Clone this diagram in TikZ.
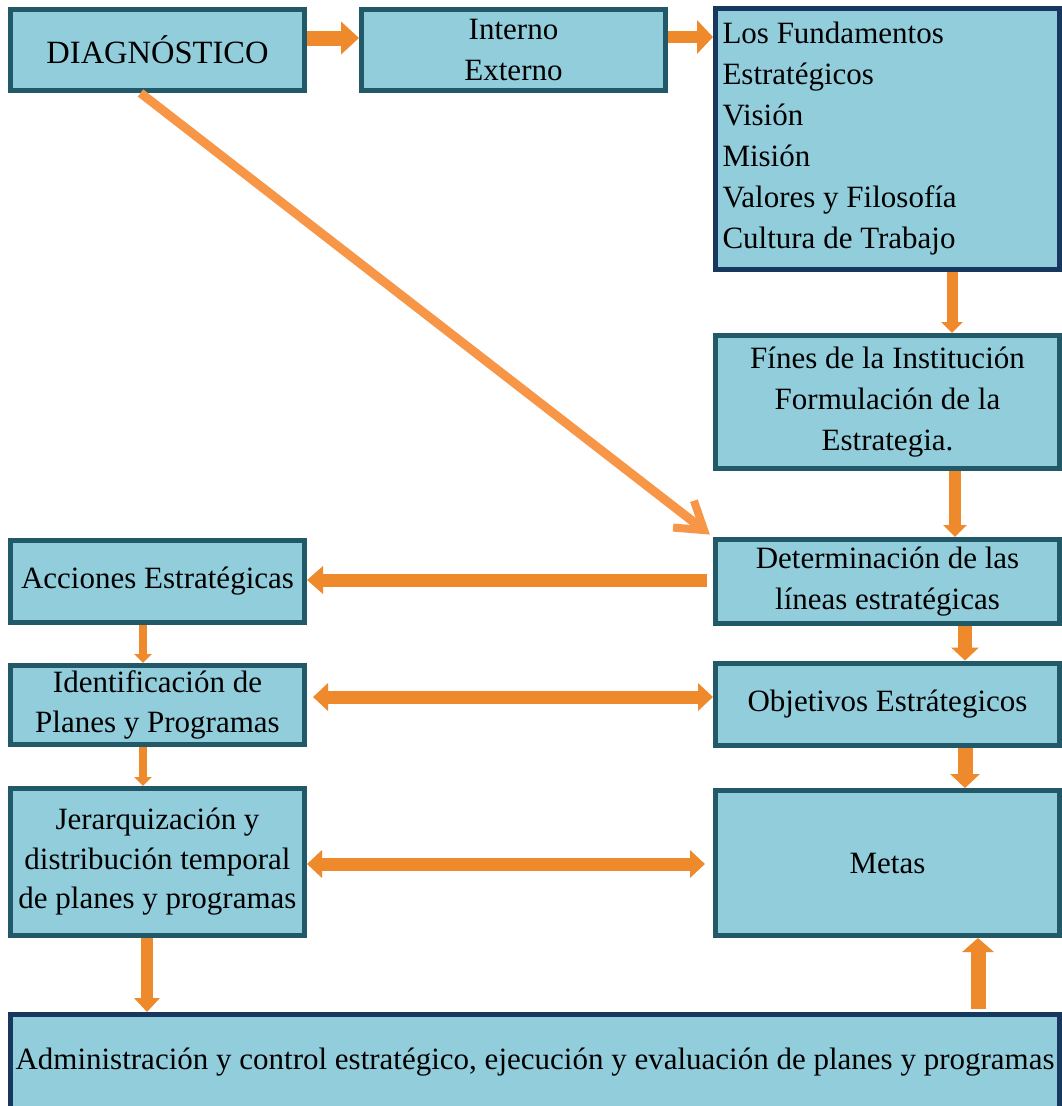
\documentclass[tikz,border=0pt]{standalone}
\usepackage{fontspec}
\setmainfont{Liberation Serif}
\usetikzlibrary{arrows.meta}

\definecolor{boxfill}{HTML}{92CDDC}
\definecolor{tealedge}{HTML}{215968}
\definecolor{navyedge}{HTML}{17375E}
\definecolor{arrowor}{HTML}{EF8A2C}
\definecolor{lineor}{HTML}{F79646}

\tikzset{
  box/.style={draw=tealedge, fill=boxfill, line width=5pt, inner sep=0pt,
    align=center, font=\fontsize{31}{41}\selectfont},
  navybox/.style={box, draw=navyedge},
  % block arrow: thick shaft plus a wide triangular head
  barrow/.style n args={3}{draw=arrowor, line width=#1,
    -{Triangle[width=#2, length=#3]}},
  dbarrow/.style n args={3}{draw=arrowor, line width=#1,
    {Triangle[width=#2, length=#3]}-{Triangle[width=#2, length=#3]}},
}

\begin{document}
\begin{tikzpicture}[x=1pt, y=-1pt]
  \fill[white] (0,0) rectangle (1062,1106);
  \useasboundingbox (0,0) rectangle (1062,1106);

  % top row
  \node[box, minimum width=294pt, minimum height=81pt,
        font=\fontsize{32.5}{41}\selectfont] (diag) at (157.5,50) {DIAGNÓSTICO};
  \node[box, minimum width=304pt, minimum height=81pt] (inex) at (513.5,50) {Interno\\Externo};
  \node[navybox, minimum width=344pt, minimum height=261pt, align=flush left,
        text width=330pt] (fund) at (887.5,139)
    {Los Fundamentos\\Estratégicos\\Visión\\Misión\\Valores y Filosofía\\Cultura de Trabajo};

  % right column
  \node[box, minimum width=344pt, minimum height=133pt] (fines) at (887.5,402)
    {Fínes de la Institución\\Formulación de la\\Estrategia.};
  \node[box, minimum width=344pt, minimum height=84pt] (det) at (887.5,581.5)
    {Determinación de las\\líneas estratégicas};
  \node[box, minimum width=344pt, minimum height=82pt] (obj) at (887.5,704)
    {Objetivos Estrátegicos};
  \node[box, minimum width=344pt, minimum height=145pt] (metas) at (887.5,863)
    {Metas};

  % left column
  \node[box, minimum width=294pt, minimum height=82pt] (acc) at (157.5,581.5)
    {Acciones Estratégicas};
  \node[box, minimum width=294pt, minimum height=79pt,
        font=\fontsize{31}{40}\selectfont] (ident) at (157.5,705)
    {Identificación de\\Planes y Programas};
  \node[box, minimum width=294pt, minimum height=147pt,
        font=\fontsize{31}{39.5}\selectfont] (jer) at (157.5,862)
    {Jerarquización y\\distribución temporal\\de planes y programas};

  % bottom bar
  \node[navybox, minimum width=1049pt, minimum height=95pt] (admin) at (535,1062)
    {Administración y control estratégico, ejecución y evaluación de planes y programas};

  % horizontal block arrows, top row
  \draw[barrow={15pt}{32pt}{18pt}] ([yshift=12pt]diag.east) -- ([yshift=12pt]inex.west);
  \draw[barrow={12pt}{33pt}{16pt}] ([yshift=13pt]inex.east) -- ([yshift=13pt]inex.east -| fund.west);

  % diagonal connector
  \draw[lineor, line width=9pt, shorten >=4pt,
        -{Straight Barb[length=26pt, width=34pt, line width=8pt]}]
    ([xshift=-17pt]diag.south) -- (det.north west);

  % right column, downward
  \draw[barrow={11pt}{21pt}{11pt}] ([xshift=64.5pt]fund.south) -- ([xshift=64.5pt]fines.north);
  \draw[barrow={12pt}{23pt}{12pt}] ([xshift=67.5pt]fines.south) -- ([xshift=67.5pt]det.north);
  \draw[barrow={14pt}{27pt}{13pt}] ([xshift=77.5pt]det.south) -- ([xshift=77.5pt]obj.north);
  \draw[barrow={15pt}{29pt}{14pt}] ([xshift=77.5pt]obj.south) -- ([xshift=77.5pt]metas.north);

  % from the strategic lines to the actions
  \draw[barrow={13pt}{27pt}{16pt}, shorten <=6pt] ([yshift=1.5pt]det.west) -- ([yshift=1.5pt]det.west -| acc.east);

  % left column, downward
  \draw[barrow={8pt}{17pt}{9pt}] ([xshift=-14.5pt]acc.south) -- ([xshift=-14.5pt]ident.north);
  \draw[barrow={8pt}{17pt}{9pt}] ([xshift=-14.5pt]ident.south) -- ([xshift=-14.5pt]jer.north);
  \draw[barrow={12pt}{25pt}{14pt}] ([xshift=-10.5pt]jer.south) -- ([xshift=-10.5pt]admin.north -| jer.south);

  % two-way links between the columns
  \draw[dbarrow={13pt}{27pt}{15pt}, shorten <=6pt] ([yshift=8pt]ident.east) -- ([yshift=8pt]ident.east -| obj.west);
  \draw[dbarrow={13pt}{27pt}{15pt}, shorten >=8pt] ([yshift=-2pt]jer.east) -- ([yshift=-2pt]jer.east -| metas.west);

  % upward arrow from the bottom bar to the goals
  \draw[barrow={15pt}{31pt}{14pt}, shorten <=3pt] ([xshift=90.5pt]metas.south |- admin.north) -- ([xshift=90.5pt]metas.south);
\end{tikzpicture}
\end{document}
